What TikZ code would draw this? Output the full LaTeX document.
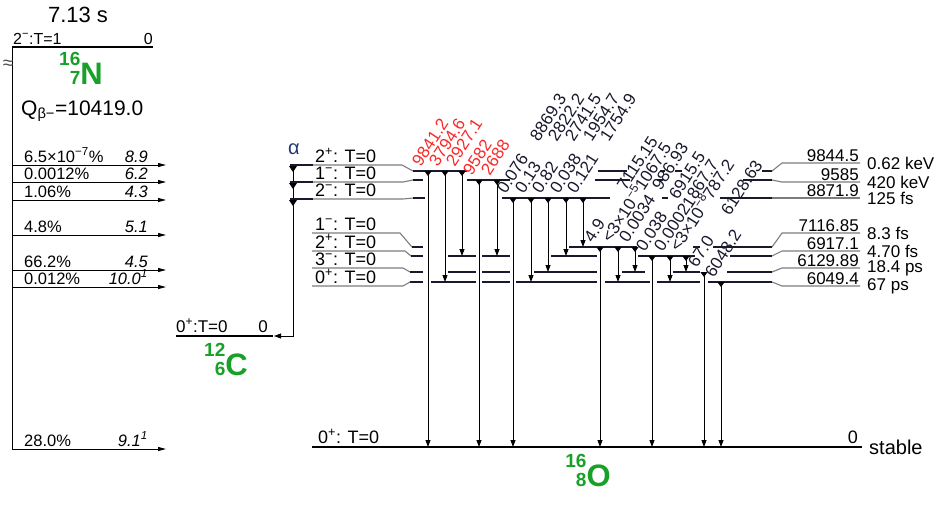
\documentclass[tikz,border=0pt]{standalone}
\usepackage{fontspec}
\setmainfont{Liberation Sans}
\usetikzlibrary{arrows.meta}
\definecolor{nucgreen}{RGB}{24,160,40}
\definecolor{gamred}{RGB}{250,40,40}
\definecolor{lblgrey}{RGB}{125,125,125}
\definecolor{inkdark}{RGB}{25,25,45}
\definecolor{alphablue}{RGB}{35,55,115}
\newcommand{\fsz}[1]{\fontsize{#1}{#1}\selectfont}
\newcommand{\nuc}[3]{{\bfseries\fontsize{19}{19}\selectfont
  \begin{tabular}[b]{@{}r@{}}#1\\#2\end{tabular}}{\bfseries\fsz{31}#3}}
\tikzset{
  lvl/.style={line width=1.5pt, color=inkdark},
  conn/.style={line width=1.1pt, color=lblgrey},
  gsline/.style={line width=2.8pt, color=black},
  gam/.style={line width=0.8pt,
    {Triangle[reversed, length=5pt, width=7pt]}-{Triangle[length=7pt, width=5pt]}},
  beta/.style={line width=0.9pt, -{Triangle[length=8pt, width=4pt]}},
  glab/.style={rotate=57, anchor=south west, inner sep=0pt, font=\fsz{17}},
  lvllab/.style={anchor=base west, inner sep=0pt, font=\fsz{18}},
  enlab/.style={anchor=base east, inner sep=0pt, font=\fsz{17}},
  wlab/.style={anchor=west, inner sep=0pt, font=\fsz{17}},
  blab/.style={anchor=base west, inner sep=0pt, font=\fsz{16.5}},
  ftlab/.style={anchor=base east, inner sep=0pt, font=\fsz{16.5}\itshape},
  nuclab/.style={color=nucgreen, inner sep=0pt}
}
\begin{document}
\begin{tikzpicture}[x=1pt, y=-1pt]
  \useasboundingbox (0,0) rectangle (940,504);
  % 16N parent level
  \draw[gsline] (12,47) -- (153,47);
  \node[anchor=base west, inner sep=0pt, font=\fsz{16}] (nlev) at (13,44) {2\textsuperscript{−}:T=1};
  \node[anchor=base east, inner sep=0pt, font=\fsz{16}] (nlevE) at (153,44) {0};
  \node[font=\fsz{22}] (thalf) at (78,15) {7.13 s};
  \node[nuclab] (n16) at (81,71) {\nuc{16}{7}{N}};
  \node[anchor=west, inner sep=0pt, font=\fsz{21}] (qval) at (21,111) {Q\textsubscript{β−}=10419.0};
  \draw[line width=1pt] (12,47) -- (12,449);
  \node[font=\fsz{19}, black!70] (brk) at (8,65) {≈};
  % beta branches
  \foreach \y/\br/\ft in {165/{6.5×10\textsuperscript{−7}\%}/8.9, 182/0.0012\%/6.2,
      200/1.06\%/4.3, 235/4.8\%/5.1, 270/66.2\%/4.5,
      287/0.012\%/{10.0\textsuperscript{1}}, 449/28.0\%/{9.1\textsuperscript{1}}}{
    \draw[beta] (12,\y) -- (166,\y);
    \node[blab] (br\y) at (24,\y-3) {\br};
    \node[ftlab] (ft\y) at (148,\y-3) {\ft};
  }
  % 12C level and alpha branches
  \draw[gsline] (176,336) -- (273,336);
  \node[lvllab, font=\fsz{17}] (clev) at (176,332) {0\textsuperscript{+}:T=0};
  \node[enlab] (clevE) at (268,332) {0};
  \node[nuclab] (c12) at (226,362) {\nuc{12}{6}{C}};
  \draw[line width=0.9pt, -{Triangle[length=7pt, width=5pt]}] (293,166) -- (293,336) -- (274,336);
  \foreach \y in {166,183,200}
    \fill (289,\y) -- (297,\y) -- (293,\y+6) -- cycle;
  \node[font=\fsz{20}, alphablue] (alab) at (294,149) {α};
  % 16O levels: label lines
  \draw[conn] (290,165) -- (402,165) -- (413,171);
  \draw[conn] (290,182) -- (403,182) -- (413,180);
  \draw[conn] (290,199) -- (403,199) -- (413,198);
  \draw[conn] (312,233) -- (400,233) -- (412,247);
  \draw[conn] (312,251) -- (405,251) -- (411,256);
  \draw[conn] (312,268) -- (403,268) -- (410,272);
  \draw[conn] (312,286) -- (403,286) -- (410,282);
  \foreach \y in {165,182,199} \draw[lvl] (290,\y) -- (313,\y);
  \draw[conn] (772,171) -- (782,163) -- (860,163);
  \draw[conn] (772,180) -- (782,182) -- (860,182);
  \draw[conn] (772,198) -- (860,198);
  \draw[conn] (772,247) -- (782,233) -- (860,233);
  \draw[conn] (772,256) -- (782,251) -- (860,251);
  \draw[conn] (772,272) -- (782,268) -- (860,268);
  \draw[conn] (772,282) -- (782,286) -- (860,286);
  % 16O levels: pieces between the gammas
  \foreach \a/\b in {413/467, 598/627, 660/665, 675/682, 762/772} \draw[lvl] (\a,171) -- (\b,171);
  \foreach \a/\b in {413/423, 467/510, 595/630, 657/663, 743/772} \draw[lvl] (\a,180) -- (\b,180);
  \foreach \a/\b in {413/425, 502/610, 662/668, 720/772} \draw[lvl] (\a,198) -- (\b,198);
  \foreach \a/\b in {412/423, 569/637, 693/700, 713/772} \draw[lvl] (\a,247) -- (\b,247);
  \foreach \a/\b in {411/423, 448/476, 482/510, 551/597, 638/695, 730/772} \draw[lvl] (\a,256) -- (\b,256);
  \foreach \a/\b in {410/423, 448/476, 482/510, 534/597, 622/645, 673/700, 727/772} \draw[lvl] (\a,272) -- (\b,272);
  \foreach \a/\b in {410/423, 431/476, 482/510, 516/597, 605/650, 657/700, 708/772} \draw[lvl] (\a,282) -- (\b,282);
  % level labels
  \foreach \y/\jp in {165/2\textsuperscript{+}, 182/1\textsuperscript{−}, 199/2\textsuperscript{−},
      233/1\textsuperscript{−}, 251/2\textsuperscript{+}, 268/3\textsuperscript{−}, 286/0\textsuperscript{+}}
    \node[lvllab] (jp\y) at (315,\y-3) {\jp: T=0};
  \foreach \y/\en/\hw in {163/9844.5/0.62 keV, 182/9585/420 keV, 198/8871.9/125 fs,
      233/7116.85/8.3 fs, 251/6917.1/4.70 fs, 268/6129.89/18.4 ps, 286/6049.4/67 ps}{
    \node[enlab] (en\y) at (859,\y-2) {\en};
    \node[wlab] (hw\y) at (867,\y) {\hw};
  }
  % ground state
  \draw[gsline] (312,447) -- (862,447);
  \node[lvllab] (gslab) at (318,443) {0\textsuperscript{+}: T=0};
  \node[enlab, font=\fsz{18}] (gsen) at (858,443) {0};
  \node[wlab, font=\fsz{20}] (gsst) at (869,447) {stable};
  \node[nuclab] (o16) at (588,473) {\nuc{16}{8}{O}};
  % gammas without intensity
  \foreach \x/\ya/\yb/\en in {428/171/447/9841.2, 445/171/282/3794.6, 462/171/256/2927.1,
      479/180/447/9582, 497/180/256/2688}{
    \draw[gam] (\x,\ya) -- (\x,\yb);
    \node[glab, gamred] (g\x) at (\x-7,\ya-3) {\en};
  }
  % gammas with intensity
  \foreach \x/\ya/\yb/\ri/\en in {513/198/447/0.076/8869.3, 531/198/282/0.13/2822.2,
      548/198/272/0.82/2741.5, 566/198/256/0.038/1954.7, 583/198/247/0.121/1754.9,
      600/247/447/4.9/7115.15, 618/247/282/{<3×10\textsuperscript{−5}}/1067.5,
      635/247/272/0.0034/986.93, 652/256/447/0.038/6915.5,
      670/256/282/0.00021/867.7, 686/256/272/{<3×10\textsuperscript{−8}}/787.2,
      704/272/447/67.0/6128.63}{
    \draw[gam] (\x,\ya) -- (\x,\yb);
    \node[glab, inkdark] (i\x) at (\x-7,\ya-3) {\ri};
    \node[glab, inkdark] (g\x) at (\x+26,\ya-55) {\en};
  }
  \draw[gam] (721,282) -- (721,447);
  \node[glab, inkdark] (g721) at (714,279) {6048.2};
\end{tikzpicture}
\end{document}
